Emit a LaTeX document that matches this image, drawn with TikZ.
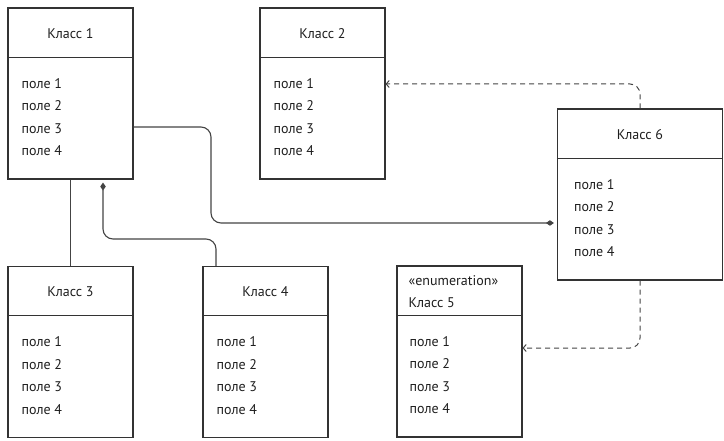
\documentclass[tikz,border=0pt]{standalone}
\usepackage{fontspec}
\setmainfont{PT Sans}
\usepackage{tikz}
\usetikzlibrary{arrows.meta,positioning}
\definecolor{umlLine}{HTML}{333333}
\definecolor{umlConn}{HTML}{444444}
\definecolor{umlText}{HTML}{1E1E1E}
\tikzset{
  klassbox/.style={draw=umlLine, line width=1.1pt, minimum height=171pt, inner sep=0pt},
  klassline/.style={draw=umlLine, line width=1.1pt},
  klasstitle/.style={anchor=base, inner sep=0pt, font=\fontsize{14}{16}\selectfont, text=umlText},
  klassfield/.style={anchor=base west, inner sep=0pt, font=\fontsize{14}{16}\selectfont, text=umlText},
  assoc/.style={draw=umlConn, line width=1.1pt, rounded corners=10pt},
  agreg/.style={assoc, -{Diamond[length=8pt,width=5.5pt]}, shorten >=3pt},
  depend/.style={draw=umlConn, line width=1pt, dash pattern=on 5pt off 4pt, rounded corners=10pt, -{Straight Barb[length=3pt,width=7pt]}},
}
% class box: [width]{name}{center}{field indent}
\newcommand{\klass}[4][125pt]{%
  \node[klassbox, minimum width=#1] (#2) at (#3) {};
  \draw[klassline] ([yshift=-50pt]#2.north west) -- ([yshift=-50pt]#2.north east);
  \foreach \i in {1,...,4}
    \node[klassfield] (#2-f\i) at ([xshift=#4,yshift={-81pt-22.4pt*(\i-1)}]#2.north west) {поле \i};
}

\begin{document}
\begin{tikzpicture}[x=1pt, y=-1pt]
\useasboundingbox (0,0) rectangle (724,441);

\klass{k1}{70.5,93.5}{14pt}
\klass{k2}{322.5,93.5}{14pt}
\klass{k3}{70.5,352}{14pt}
\klass{k4}{265.5,352}{14pt}
\klass{k5}{459.5,351.5}{13pt}
\klass[165pt]{k6}{640,194.5}{17pt}

\node[klasstitle] (k1-t) at ([yshift=-31pt]k1.north) {Класс 1};
\node[klasstitle] (k2-t) at ([yshift=-31pt]k2.north) {Класс 2};
\node[klasstitle] (k3-t) at ([yshift=-31pt]k3.north) {Класс 3};
\node[klasstitle] (k4-t) at ([yshift=-31pt]k4.north) {Класс 4};
\node[klasstitle] (k6-t) at ([yshift=-31pt]k6.north) {Класс 6};
\node[klasstitle, anchor=base west] (k5-s) at ([xshift=12pt,yshift=-20pt]k5.north west) {«enumeration»};
\node[klasstitle, anchor=base west] (k5-t) at ([xshift=12pt,yshift=-42pt]k5.north west) {Класс 5};

% links
\draw[agreg] ([yshift=-33.5pt]k1.east) -| (211,223) -- ([yshift=-28.5pt]k6.west);
\draw[assoc] (k1.south) -- (k3.north);
\draw[agreg] ([xshift=-49.5pt]k4.north) |- (103,239) -- ([xshift=32.5pt]k1.south);
\draw[depend] (k6.north) |- ([yshift=9.5pt]k2.east);
\draw[depend] (k6.south) |- ([yshift=3.5pt]k5.east);
\end{tikzpicture}
\end{document}
